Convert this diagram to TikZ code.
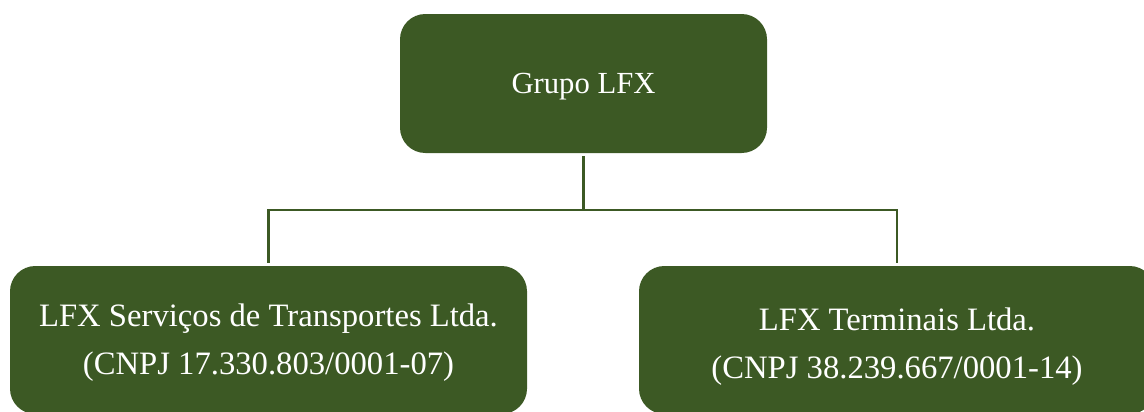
\documentclass[tikz,border=0pt]{standalone}
\usepackage{fontspec}
\setmainfont{Liberation Serif}
\definecolor{lfxgreen}{RGB}{60,89,36}
\tikzset{
  box/.style={fill=lfxgreen, draw=none, rounded corners=19pt, inner sep=0pt},
  label/.style={text=white, align=center, inner sep=0pt, anchor=base, font=\fontsize{24.5}{36}\selectfont},
  link/.style={draw=lfxgreen, line width=1.6pt}
}
\begin{document}
\begin{tikzpicture}[x=0.75pt,y=-0.75pt]
\useasboundingbox (0,0) rectangle (1144,411);
\begin{scope}
\clip (0,0) rectangle (1144,411);
\node[box, minimum width=275.25pt, minimum height=104.25pt] (top) at (583.5,83.5) {};
\node[box, minimum width=387.75pt, minimum height=111pt] (left) at (268.5,340) {};
\node[box, minimum width=387pt, minimum height=111pt] (right) at (897,340) {};
\node[label, font=\fontsize{23}{30}\selectfont] (toptext) at (583.5,93) {Grupo LFX};
\node[label] (lefttext) at (268.5,374)
  {LFX Serviços de Transportes Ltda.\\(CNPJ 17.330.803/0001-07)};
\node[label] (righttext) at (897,378)
  {LFX Terminais Ltda.\\(CNPJ 38.239.667/0001-14)};
\coordinate (mid) at (top.south |- 0,210);
\draw[link] ([yshift=-2.25pt]top.south) -- (mid);
\draw[link] ([yshift=2.25pt]left.north) |- (mid) -| ([yshift=2.25pt]right.north);
\end{scope}
\end{tikzpicture}
\end{document}
